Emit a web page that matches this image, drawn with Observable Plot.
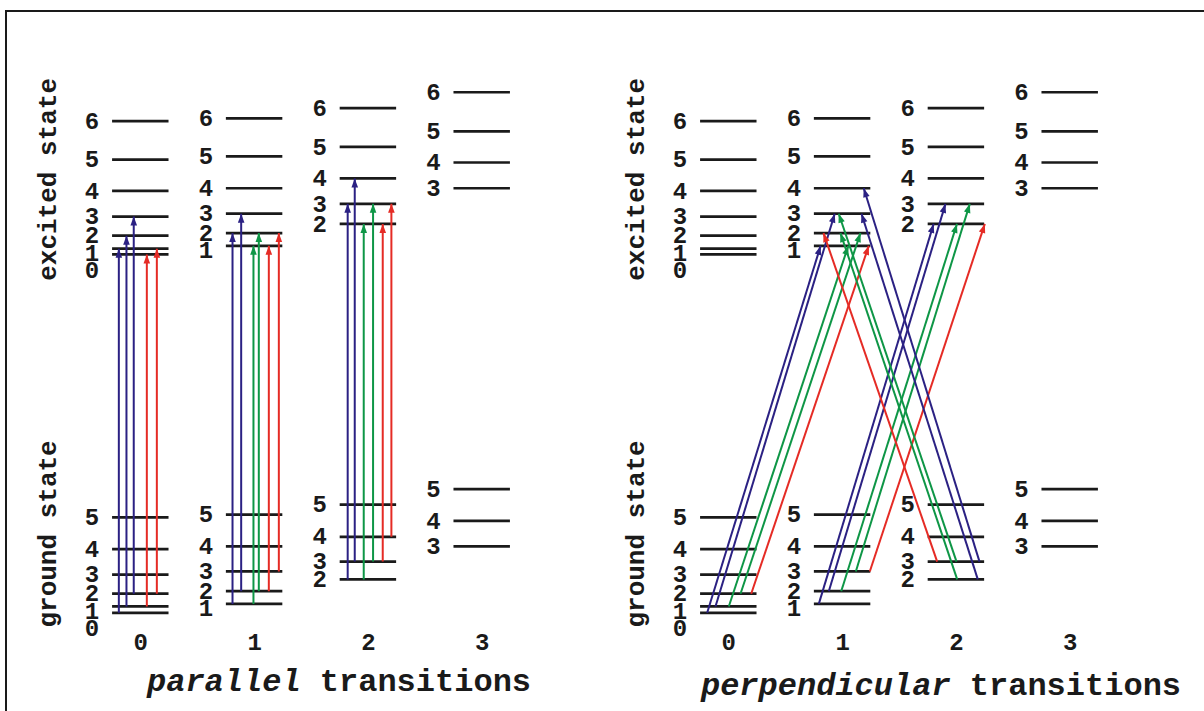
<!DOCTYPE html>
<html><head><meta charset="utf-8">
<script src="https://cdn.jsdelivr.net/npm/d3@7"></script>
<script src="https://cdn.jsdelivr.net/npm/@observablehq/plot@0.6"></script>
<style>
body{margin:0;background:#fff;}
#wrap{position:relative;width:1204px;height:711px;overflow:hidden;font-family:"Liberation Mono","Courier New",monospace;color:#1a1a1a;}
.panel{position:absolute;top:0;}
.title{position:absolute;font-size:32px;font-weight:bold;white-space:pre;transform:translateX(-50%);line-height:32px;}
.title i{font-style:italic;}
#frame{position:absolute;left:5px;top:10px;width:1400px;height:900px;border:2px solid #1a1a1a;pointer-events:none;}
</style></head><body><div id="wrap"></div>
<script>
// ---- data ----
const Ks = [0, 1, 2, 3];
// ground-state rotational levels (energy in units of B), J = K..5
const groundJ = [[0,1,2,3,4,5],[1,2,3,4,5],[2,3,4,5],[3,4,5]];
const groundE = [[0,2,6,12,20,30],[2.8,6.8,13.0,20.9,30.9],[10.5,16.1,23.9,34.0],[20.9,28.9,38.9]];
// excited-state rotational levels, J = K..6
const excitedJ = [[0,1,2,3,4,5,6],[1,2,3,4,5,6],[2,3,4,5,6],[3,4,5,6]];
const excitedE = [[112.7,114.5,118.6,124.6,132.7,142.5,154.6],[115.4,119.4,125.5,133.5,143.5,155.5],[122.3,128.6,136.6,146.5,158.7],[133.5,141.6,151.4,163.7]];
const stateNames = ["excited state", "ground state"];
const stateE = [136.3, 24.8];
const branches = ["R", "Q", "P"];
const branchColors = ["#2b2183", "#0e9646", "#e52b25"];

// parallel transitions (ΔK = 0)
const parK      = [0,0,0,0,0, 1,1,1,1,1,1, 2,2,2,2,2,2];
const parJlo    = [0,1,2,1,2, 1,2,1,2,2,3, 2,3,2,3,3,4];
const parJup    = [1,2,3,0,1, 2,3,1,2,1,2, 3,4,2,3,2,3];
const parBranch = ["R","R","R","P","P", "R","R","Q","Q","P","P", "R","R","Q","Q","P","P"];
const parPos    = [-0.193,-0.126,-0.062,0.053,0.141, -0.194,-0.118,-0.010,0.037,0.125,0.213, -0.182,-0.120,-0.041,0.041,0.126,0.202];

// perpendicular transitions (ΔK = ±1)
const perKlo    = [0,0,0,0,0, 1,1,1,1,1, 2,2,2,2,2];
const perJlo    = [0,1,1,2,2, 1,2,2,3,3, 3,3,2,3,2];
const perKup    = [1,1,1,1,1, 2,2,2,2,2, 1,1,1,1,1];
const perJup    = [1,3,1,2,1, 2,3,2,3,2, 2,3,2,4,3];
const perBranch = ["R","R","Q","Q","P", "R","R","Q","Q","P", "P","Q","Q","R","R"];
const perPosLo  = [-0.190,-0.117,0.000,0.103,0.197, -0.209,-0.121,-0.012,0.116,0.239, -0.169,0.001,0.007,0.203,0.188];
const perPosUp  = [-0.193,-0.069,0.050,0.157,0.230, -0.200,-0.096,0.005,0.118,0.250, -0.168,-0.034,-0.019,0.186,0.166];

// ---- build tables ----
const levels = [];
Ks.forEach(K => {
  groundJ[K].forEach((J, i) => levels.push({state: "ground", K, J, E: groundE[K][i]}));
  excitedJ[K].forEach((J, i) => levels.push({state: "excited", K, J, E: excitedE[K][i]}));
});
const energy = (state, K, J) => levels.find(l => l.state === state && l.K === K && l.J === J).E;

// label positions: keep labels at least a fixed gap apart (top to bottom)
const GAP = 5.5;
d3.groups(levels, d => d.state, d => d.K).forEach(([, byK]) => byK.forEach(([, arr]) => {
  arr.sort((a, b) => b.E - a.E);
  let prev = Infinity;
  arr.forEach(l => { l.labelE = Math.min(l.E, prev - GAP); prev = l.labelE; });
}));

const parallel = parK.map((K, i) => ({
  x1: K + parPos[i], E1: energy("ground", K, parJlo[i]),
  x2: K + parPos[i], E2: energy("excited", K, parJup[i]), branch: parBranch[i]}));
const perpendicular = perKlo.map((K, i) => ({
  x1: K + perPosLo[i], E1: energy("ground", K, perJlo[i]),
  x2: perKup[i] + perPosUp[i], E2: energy("excited", perKup[i], perJup[i]), branch: perBranch[i]}));

// ---- layout ----
const W = 588, H = 660;
const mL = 140.3, mR = 106.3, mT = 71.7, mB = 47.7;
const yDomain = [0, 170];
const pxPerX = (W - mL - mR) / 3, pxPerY = (H - mT - mB) / (yDomain[1] - yDomain[0]);
const HALF = 0.248;

const arrowHead = {draw(ctx) { ctx.moveTo(0, 0); ctx.lineTo(3.3, 9); ctx.lineTo(-3.3, 9); ctx.closePath(); }};

function panel(trans) {
  trans.forEach(t => {
    const dx = (t.x2 - t.x1) * pxPerX, dy = (t.E2 - t.E1) * pxPerY;
    t.rot = Math.atan2(dx, dy) * 180 / Math.PI;
  });
  return Plot.plot({
    width: W, height: H,
    marginLeft: mL, marginRight: mR, marginTop: mT, marginBottom: mB,
    style: {background: "none", fontFamily: '"Liberation Mono","Courier New",monospace', fontWeight: "bold", color: "#1a1a1a", overflow: "visible"},
    x: {domain: [0, 3], axis: null},
    y: {domain: yDomain, axis: null},
    color: {domain: branches, range: branchColors},
    marks: [
      Plot.ruleY(levels, {y: "E", x1: d => d.K - HALF, x2: d => d.K + HALF, stroke: "#1a1a1a", strokeWidth: 2.7}),
      Plot.text(levels, {x: d => d.K - HALF, y: "labelE", text: "J", dx: -20.5, fontSize: 24, textAnchor: "middle", lineAnchor: "middle", fill: "#1a1a1a"}),
      Plot.link(trans, {x1: "x1", y1: "E1", x2: "x2", y2: "E2", stroke: "branch", strokeWidth: 2}),
      Plot.dot(trans, {x: "x2", y: "E2", symbol: arrowHead, fill: "branch", stroke: null, rotate: "rot", r: 4}),
      Plot.axisX({ticks: Ks, tickSize: 0, tickPadding: 20, fontSize: 24, label: null, tickFormat: d => String(d)}),
      Plot.text(stateNames, {y: (d, i) => stateE[i], text: d => d, frameAnchor: "left", dx: -93, rotate: -90, fontSize: 26, textAnchor: "middle", lineAnchor: "middle", fill: "#1a1a1a"})
    ]
  });
}

const wrap = document.getElementById("wrap");
const p1 = panel(parallel); p1.classList.add("panel"); p1.style.left = "0px";
const p2 = panel(perpendicular); p2.classList.add("panel"); p2.style.left = W + "px";
wrap.appendChild(p1); wrap.appendChild(p2);

const t1 = document.createElement("div"); t1.className = "title";
t1.style.left = "339px"; t1.style.top = "667px";
t1.innerHTML = "<i>parallel</i> transitions";
const t2 = document.createElement("div"); t2.className = "title";
t2.style.left = "941px"; t2.style.top = "671px";
t2.innerHTML = "<i>perpendicular</i> transitions";
wrap.appendChild(t1); wrap.appendChild(t2);
const frame = document.createElement("div"); frame.id = "frame"; wrap.appendChild(frame);
</script>
</body></html>
